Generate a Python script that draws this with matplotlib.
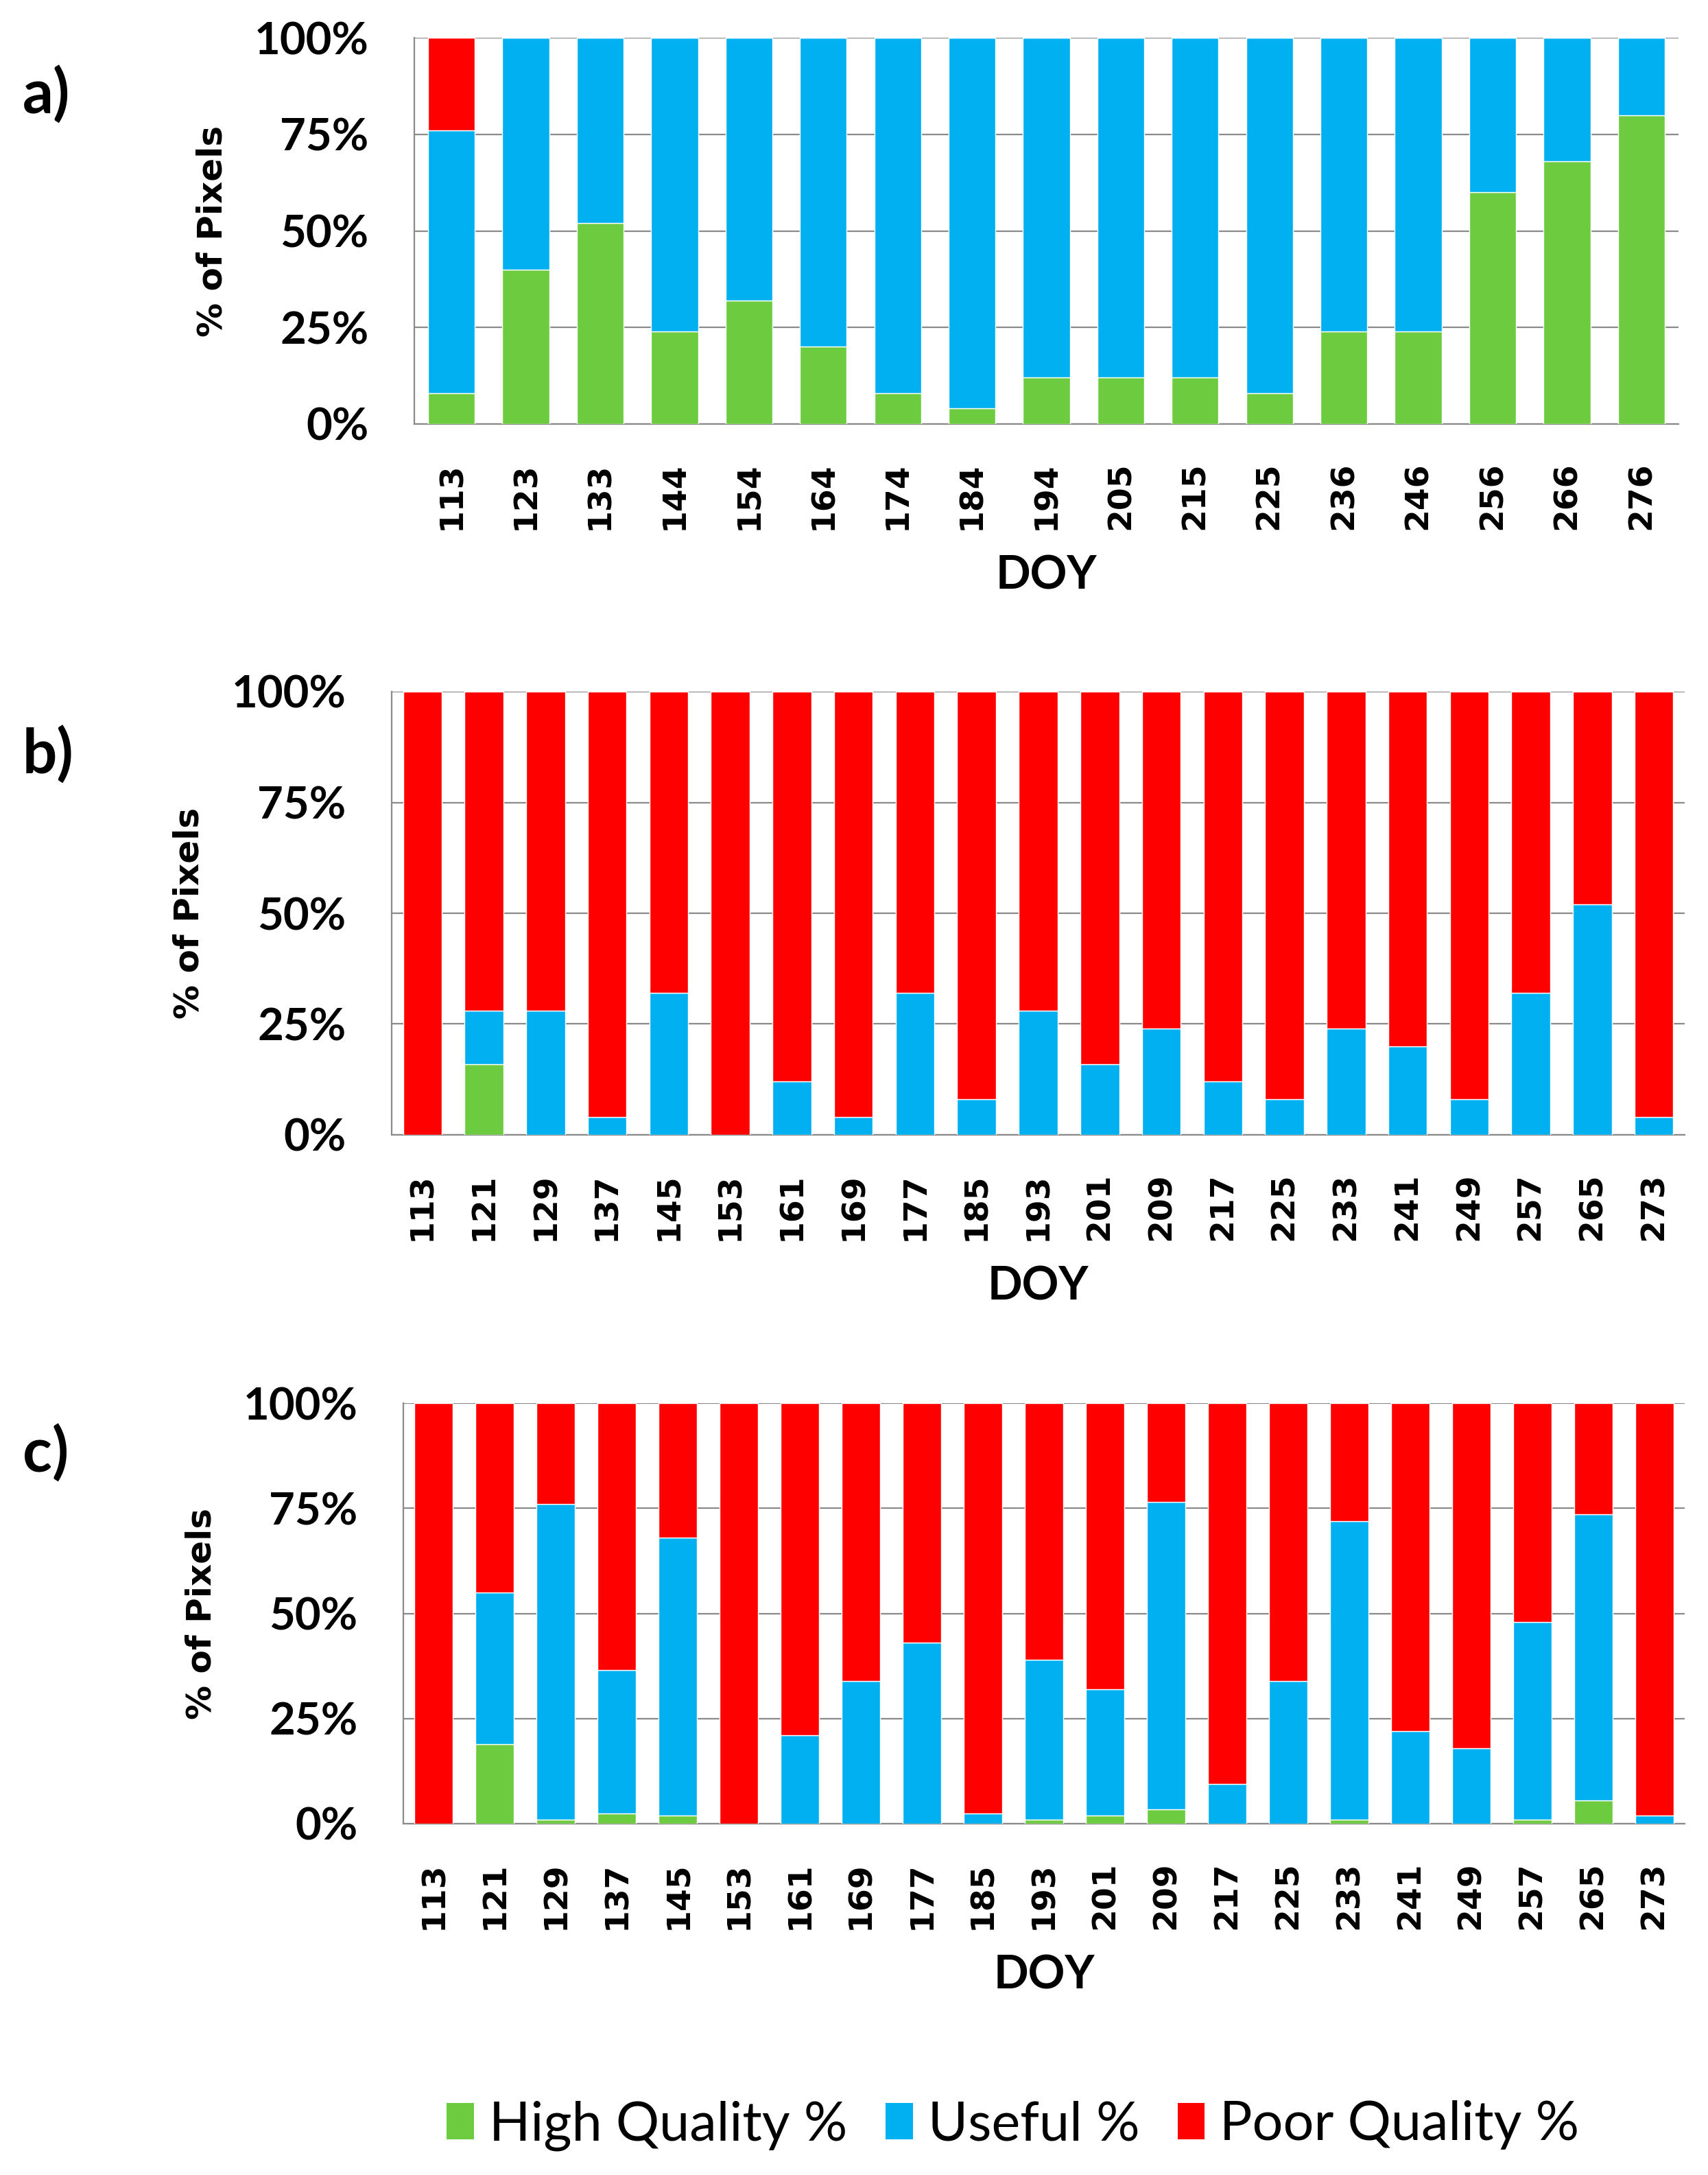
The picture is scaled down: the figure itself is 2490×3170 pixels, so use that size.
import matplotlib
matplotlib.use("Agg")
import matplotlib.pyplot as plt
from matplotlib.patches import Patch

# =========================
# Data
# =========================
doy_a = ["113", "123", "133", "144", "154", "164", "174", "184", "194",
         "205", "215", "225", "236", "246", "256", "266", "276"]
high_a = [8, 40, 52, 24, 32, 20, 8, 4, 12, 12, 12, 8, 24, 24, 60, 68, 80]
useful_a = [68, 60, 48, 76, 68, 80, 92, 96, 88, 88, 88, 92, 76, 76, 40, 32, 20]
poor_a = [24, 0, 0, 0, 0, 0, 0, 0, 0, 0, 0, 0, 0, 0, 0, 0, 0]

doy_bc = ["113", "121", "129", "137", "145", "153", "161", "169", "177", "185", "193",
          "201", "209", "217", "225", "233", "241", "249", "257", "265", "273"]
high_b = [0, 16, 0, 0, 0, 0, 0, 0, 0, 0, 0, 0, 0, 0, 0, 0, 0, 0, 0, 0, 0]
useful_b = [0, 12, 28, 4, 32, 0, 12, 4, 32, 8, 28, 16, 24, 12, 8, 24, 20, 8, 32, 52, 4]
poor_b = [100, 72, 72, 96, 68, 100, 88, 96, 68, 92, 72, 84, 76, 88, 92, 76, 80, 92, 68, 48, 96]

high_c = [0, 19, 1, 2.5, 2, 0, 0, 0, 0, 0, 1, 2, 3.5, 0, 0, 1, 0, 0, 1, 5.5, 0]
useful_c = [0, 36, 75, 34, 66, 0, 21, 34, 43, 2.5, 38, 30, 73, 9.5, 34, 71, 22, 18, 47, 68, 2]
poor_c = [100, 45, 24, 63.5, 32, 100, 79, 66, 57, 97.5, 61, 68, 23.5, 90.5, 66, 28, 78, 82, 52, 26.5, 98]

series_names = ["High Quality %", "Useful %", "Poor Quality %"]
colors = ["#6CCB3F", "#00B0F0", "#FF0000"]
y_ticks = [0, 25, 50, 75, 100]

narrow = ["Lato", "DejaVu Sans"]

W, H = 2490, 3170
fig = plt.figure(figsize=(W / 100, H / 100), dpi=100)
fig.patch.set_facecolor("white")


def px_axes(left, top, right, bottom):
    return fig.add_axes([left / W, 1 - bottom / H, (right - left) / W, (bottom - top) / H])


def draw_panel(ax, labels, high, useful, poor, letter, letter_y):
    x = list(range(len(labels)))
    bottoms2 = [h + u for h, u in zip(high, useful)]
    ax.bar(x, high, width=0.63, color=colors[0], edgecolor="white", linewidth=1.0, zorder=3)
    ax.bar(x, useful, width=0.63, bottom=high, color=colors[1], edgecolor="white", linewidth=1.0, zorder=3)
    ax.bar(x, poor, width=0.63, bottom=bottoms2, color=colors[2], edgecolor="white", linewidth=1.0, zorder=3)

    ax.set_xlim(-0.5, len(labels) - 0.5)
    ax.set_ylim(0, 100)
    ax.set_yticks(y_ticks)
    ax.set_yticklabels([f"{t}%" for t in y_ticks], family=narrow, fontweight="bold", fontsize=47)
    ax.set_xticks(x)
    ax.set_xticklabels(labels, rotation=90, family="DejaVu Sans", fontweight="bold", fontsize=34)
    ax.tick_params(axis="both", length=0)
    ax.tick_params(axis="y", pad=48)
    ax.tick_params(axis="x", pad=40)

    ax.grid(axis="y", color="#8a8a8a", linewidth=1.6, zorder=0)
    ax.set_axisbelow(True)
    for side in ["top", "right"]:
        ax.spines[side].set_visible(False)
    for side in ["left", "bottom"]:
        ax.spines[side].set_color("#8a8a8a")
        ax.spines[side].set_linewidth(1.6)

    ax.set_xlabel("DOY", family=narrow, fontweight="bold", fontsize=48, labelpad=26)
    ax.set_ylabel("% of Pixels", family="DejaVu Sans", fontweight="bold", fontsize=36, va="center")
    bbox = ax.get_position()
    ax.yaxis.set_label_coords(-295 / (bbox.width * W), 0.5)

    fig.text(33 / W, 1 - letter_y / H, letter, family=narrow, fontweight="bold",
             fontsize=64, ha="left", va="center")


ax_a = px_axes(604, 55, 2447, 618)
draw_panel(ax_a, doy_a, high_a, useful_a, poor_a, "a)", 138)

ax_b = px_axes(571, 1008, 2456, 1654)
draw_panel(ax_b, doy_bc, high_b, useful_b, poor_b, "b)", 1100)

ax_c = px_axes(588, 2045, 2456, 2658)
draw_panel(ax_c, doy_bc, high_c, useful_c, poor_c, "c)", 2118)

handles = [Patch(facecolor=c, edgecolor="none") for c in colors]
fig.legend(handles, series_names, ncol=3, loc="center",
           bbox_to_anchor=(1477 / W, 1 - 3098 / H), frameon=False,
           prop={"family": narrow, "size": 57},
           handlelength=0.5, handleheight=0.65, handletextpad=0.28, columnspacing=0.7)

fig.savefig("out.png", dpi=100)
